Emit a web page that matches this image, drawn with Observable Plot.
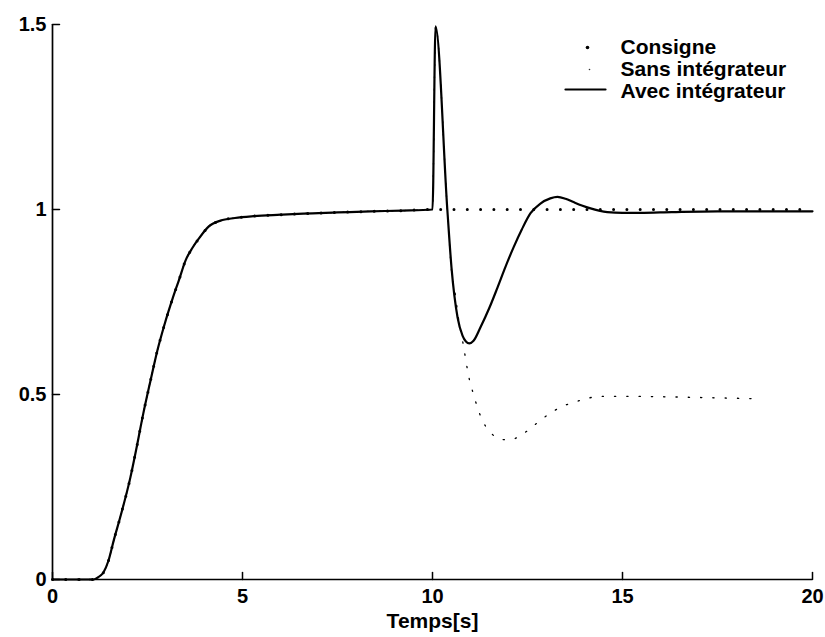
<!DOCTYPE html>
<html><head><meta charset="utf-8">
<script src="https://cdn.jsdelivr.net/npm/d3@7"></script>
<script src="https://cdn.jsdelivr.net/npm/@observablehq/plot@0.6"></script>
<style>body{margin:0;background:#fff} svg{display:block}</style>
</head><body><div id="chart"></div>
<script>
// Shared rise (0..9.2 s)
const riseT = [0, 1.0, 1.08, 1.2, 1.34, 1.47, 1.61, 1.8, 2.05, 2.2, 2.39, 2.58, 2.76, 2.95, 3.16, 3.33, 3.5, 3.68, 3.87, 4.1, 4.42, 4.8, 5.29, 6.0, 6.6, 7.5, 8.37, 9.2];
const riseY = [0, 0, 0, 0.006, 0.019, 0.05, 0.105, 0.175, 0.276, 0.35, 0.449, 0.538, 0.619, 0.69, 0.759, 0.81, 0.862, 0.896, 0.924, 0.953, 0.970, 0.977, 0.982, 0.986, 0.989, 0.992, 0.995, 0.997];
// Avec intégrateur from 10 s
const avecT = [10.0, 10.08, 10.39, 10.5, 10.66, 10.79, 10.88, 10.97, 11.08, 11.26, 11.5, 11.71, 11.92, 12.13, 12.35, 12.58, 12.84, 13.1, 13.29, 13.5, 13.71, 13.93, 14.16, 14.38, 14.6, 15.0, 15.47, 16.3, 17.5, 20];
const avecY = [1.0, 1.495, 1.0, 0.843, 0.708, 0.659, 0.643, 0.638, 0.645, 0.681, 0.735, 0.789, 0.845, 0.897, 0.946, 0.99, 1.016, 1.03, 1.034, 1.029, 1.02, 1.011, 1.003, 0.997, 0.993, 0.991, 0.991, 0.993, 0.995, 0.995];
// Sans intégrateur from 10 s
const sansT = [10.0, 10.08, 10.39, 10.5, 10.6, 10.68, 10.8, 10.97, 11.08, 11.2, 11.34, 11.42, 11.55, 11.71, 11.9, 12.08, 12.26, 12.5, 12.74, 13.05, 13.42, 13.79, 14.05, 14.45, 15.24, 16.0, 17.0, 18.4];
const sansY = [1.0, 1.495, 1.0, 0.835, 0.77, 0.708, 0.64, 0.541, 0.5, 0.46, 0.424, 0.411, 0.395, 0.381, 0.378, 0.378, 0.386, 0.402, 0.422, 0.446, 0.468, 0.481, 0.489, 0.495, 0.495, 0.494, 0.492, 0.489];
// Consigne from 10 s
const consT = [10.0, 15.0, 20];
const consY = [1.0, 1.0, 1.0];

const xTicks = [0, 5, 10, 15, 20];
const xTickLabels = ["0", "5", "10", "15", "20"];
const yTicks = [0, 0.5, 1, 1.5];
const yTickLabels = ["0", "0.5", "1", "1.5"];
const xLabel = "Temps[s]";
const legendLabels = ["Consigne", "Sans intégrateur", "Avec intégrateur"];

const rows = (ts, ys) => ts.map((t, i) => ({t, v: ys[i]}));
const rise = rows(riseT, riseY);
const avec = rise.concat(rows(avecT, avecY));
const sans = rise.concat(rows(sansT, sansY));
const cons = rise.concat(rows(consT, consY));

const tickShape = {draw(context, l) { context.moveTo(0, 0); context.lineTo(0, -l); }};
const font = {fontFamily: "Liberation Sans, Arial, sans-serif", fontWeight: "bold"};
const curve = "monotone-x";

const chart = Plot.plot({
  width: 825, height: 637,
  marginLeft: 52, marginRight: 13, marginTop: 24, marginBottom: 58,
  style: {fontFamily: "Liberation Sans, Arial, sans-serif", background: "#fff", color: "#000"},
  x: {domain: [0, 20]},
  y: {domain: [0, 1.5]},
  marks: [
    Plot.axisX(xTicks, {tickSize: 0, tickPadding: 9, fontSize: 20, ...font, tickFormat: (d, i) => xTickLabels[i], label: null}),
    Plot.axisY(yTicks, {tickSize: 0, tickPadding: 6, fontSize: 20, ...font, tickFormat: (d, i) => yTickLabels[i], label: null}),
    Plot.ruleX([0], {stroke: "#000", strokeWidth: 1.7}),
    Plot.ruleY([0], {stroke: "#000", strokeWidth: 1.7}),
    Plot.vector(xTicks, {x: d => d, frameAnchor: "bottom", length: 7, rotate: 0, anchor: "start", shape: tickShape, stroke: "#000", strokeWidth: 1.5}),
    Plot.vector(yTicks, {y: d => d, frameAnchor: "left", length: 7, rotate: 90, anchor: "start", shape: tickShape, stroke: "#000", strokeWidth: 1.5}),
    Plot.line(sans, {x: "t", y: "v", curve, stroke: "#000", strokeWidth: 1.3, strokeDasharray: "1.3 11"}),
    Plot.line(avec, {x: "t", y: "v", curve, stroke: "#000", strokeWidth: 2.2, strokeLinejoin: "round"}),
    Plot.line(cons, {x: "t", y: "v", curve, stroke: "#000", strokeWidth: 3, strokeLinecap: "round", strokeDasharray: "0 13.3"}),
    Plot.text([xLabel], {text: d => d, frameAnchor: "bottom", dy: 48, fontSize: 21, ...font, fill: "#000"}),
    Plot.text([legendLabels.join("\n")], {text: d => d, frameAnchor: "top-left", dx: 568, dy: 44, textAnchor: "start", lineAnchor: "middle", lineHeight: 1.05, fontSize: 21, ...font, fill: "#000"}),
    Plot.dot([legendLabels[0]], {frameAnchor: "top-left", dx: 535, dy: 23, r: 1.8, fill: "#000"}),
    Plot.dot([legendLabels[1]], {frameAnchor: "top-left", dx: 537, dy: 45, r: 0.8, fill: "#333"}),
    Plot.vector([legendLabels[2]], {frameAnchor: "top-left", dx: 513, dy: 65, rotate: 90, length: 40, anchor: "start", shape: tickShape, stroke: "#000", strokeWidth: 2.2})
  ]
});
document.getElementById("chart").appendChild(chart);
</script>
</body></html>
